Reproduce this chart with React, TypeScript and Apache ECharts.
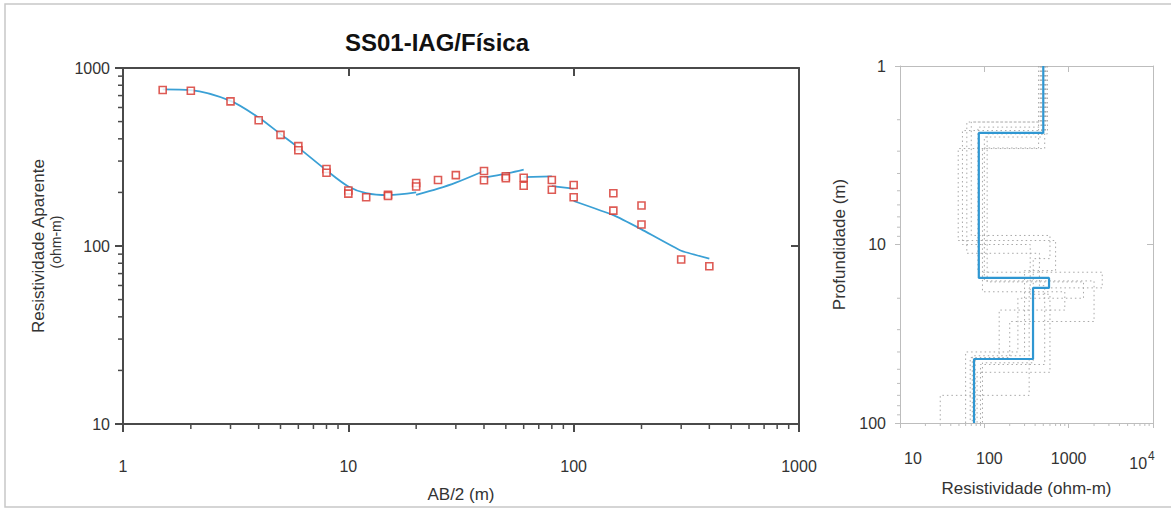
import React, { useEffect, useRef } from 'react';
import * as echarts from 'echarts';

// ---------- Left chart: sounding curve ----------
const obsAB = [1.5, 2, 3, 4, 5, 6, 6, 8, 8, 10, 10, 12, 15, 15, 20, 20, 25, 30, 40, 40, 50, 50, 60, 60, 80, 80, 100, 100, 150, 150, 200, 200, 300, 400];
const obsRho = [752, 745, 649, 509, 421, 364, 345, 271, 258, 205, 197, 188, 194, 191, 226, 216, 235, 250, 264, 234, 246, 240, 242, 218, 235, 207, 220, 188, 198, 158, 169, 132, 84, 77];

const calcSeg1AB = [1.5, 2, 3, 4, 5, 6, 8, 10, 12, 15, 20];
const calcSeg1Rho = [759, 752, 654, 527, 425, 357, 266, 216, 198, 193, 200];
const calcSeg2AB = [20, 25, 30, 40];
const calcSeg2Rho = [194, 210, 227, 264];
const calcSeg3AB = [40, 50, 60];
const calcSeg3Rho = [242, 255, 269];
const calcSeg4AB = [60, 80];
const calcSeg4Rho = [244, 246];
const calcSeg5AB = [80, 100];
const calcSeg5Rho = [217, 210];
const calcSeg6AB = [100, 150, 200, 300, 400];
const calcSeg6Rho = [179, 149, 124, 94, 85];

const leftXTicks = [1, 10, 100, 1000];
const leftYTicks = [10, 100, 1000];
const minorMultipliers = [2, 3, 4, 5, 6, 7, 8, 9];

// ---------- Right chart: layered model ----------
const bestRho = [500, 86, 585, 378, 75.5];
const bestDepth = [2.37, 15.4, 17.5, 43.8];

const altRho1 = [520, 49, 700, 300, 72];
const altDepth1 = [2.9, 9.5, 14, 42];
const altRho2 = [460, 62, 450, 520, 90];
const altDepth2 = [2.06, 11.2, 17, 47];
const altRho3 = [560, 108, 1500, 250, 60];
const altDepth3 = [2.4, 16.2, 20, 40];
const altRho4 = [470, 84, 2500, 340, 30];
const altDepth4 = [2.2, 14.3, 17.5, 70];
const altRho5 = [440, 95, 900, 150, 78];
const altDepth5 = [2.88, 18.4, 23.3, 44];
const altRho6 = [540, 70, 600, 380, 95];
const altDepth6 = [2.06, 8.9, 12, 46];
const altRho7 = [480, 100, 2000, 200, 68];
const altDepth7 = [2.5, 16, 27, 43];
const altRho8 = [530, 55, 350, 600, 82];
const altDepth8 = [2.3, 10, 19, 52];

const altModels = [
  [altRho1, altDepth1], [altRho2, altDepth2], [altRho3, altDepth3], [altRho4, altDepth4],
  [altRho5, altDepth5], [altRho6, altDepth6], [altRho7, altDepth7], [altRho8, altDepth8],
];

const DEPTH_TOP = 1;
const DEPTH_BOTTOM = 100;

function stepLine(rho: number[], depth: number[]) {
  const pts: number[][] = [];
  let top = DEPTH_TOP;
  for (let i = 0; i < rho.length; i++) {
    const bottom = i < depth.length ? depth[i] : DEPTH_BOTTOM;
    pts.push([rho[i], top]);
    pts.push([rho[i], bottom]);
    top = bottom;
  }
  return pts;
}

function minorValues(from: number, to: number) {
  const out: number[] = [];
  for (let d = from; d < to; d *= 10) for (const k of minorMultipliers) out.push(k * d);
  return out;
}

const FONT = '"Liberation Sans", Arial, sans-serif';
const DARK = '#4a4a4a';
const LIGHT = '#bdbdbd';
const BLUE = '#3aa0d5';
const RED = '#d6322b';

// minor log ticks drawn as thin rect symbols placed by the axes' own scales
function minorTickSeries(grid: number, horizontal: boolean, values: number[], anchor: number, len: number, color: string, width: number) {
  return {
    type: 'scatter', xAxisIndex: grid, yAxisIndex: grid, clip: false, silent: true, z: 6,
    data: values.map((v) => (horizontal ? [v, anchor] : [anchor, v])),
    symbol: 'rect',
    symbolSize: horizontal ? [width, len] : [len, width],
    symbolOffset: horizontal ? [0, len / 2] : [-len / 2, 0],
    itemStyle: { color, opacity: 1 },
    emphasis: { disabled: true },
  };
}

export default function App() {
  const ref = useRef<HTMLDivElement>(null);
  useEffect(() => {
    if (!ref.current) return;
    const chart = echarts.init(ref.current, undefined, { renderer: 'svg' });

    const zip = (a: number[], b: number[]) => a.map((v, i) => [v, b[i]]);
    const calcSegs = [
      [calcSeg1AB, calcSeg1Rho, 0.3], [calcSeg2AB, calcSeg2Rho, 0.3], [calcSeg3AB, calcSeg3Rho, 0.3],
      [calcSeg4AB, calcSeg4Rho, 0], [calcSeg5AB, calcSeg5Rho, 0], [calcSeg6AB, calcSeg6Rho, 0.12],
    ] as any[];

    const labelStyle = { fontSize: 16, color: '#333', fontFamily: FONT };

    const option: any = {
      animation: false,
      backgroundColor: '#fff',
      textStyle: { fontFamily: FONT },
      grid: [
        { left: 123, top: 68, width: 676, height: 356, outerBoundsMode: 'none', containLabel: false },
        { left: 900, top: 66, width: 253, height: 357, outerBoundsMode: 'none', containLabel: false },
      ],
      graphic: [
        { type: 'rect', silent: true, shape: { x: 5, y: 4, width: 1200, height: 503 }, style: { fill: 'none', stroke: '#c8c8c8', lineWidth: 1.5 } },
        { type: 'text', x: 437, y: 42, style: { text: 'SS01-IAG/Física', font: `bold 24px ${FONT}`, fill: '#111', align: 'center', verticalAlign: 'middle' } },
        { type: 'text', x: 38, y: 246, rotation: Math.PI / 2, style: { text: 'Resistividade Aparente', font: `17px ${FONT}`, fill: '#333', align: 'center', verticalAlign: 'middle' } },
        { type: 'text', x: 56, y: 242, rotation: Math.PI / 2, style: { text: '(ohm-m)', font: `14px ${FONT}`, fill: '#333', align: 'center', verticalAlign: 'middle' } },
      ],
      xAxis: [
        {
          type: 'log', logBase: 10, min: 1, max: 1000, gridIndex: 0, position: 'bottom',
          name: 'AB/2 (m)', nameLocation: 'middle', nameGap: 62,
          nameTextStyle: { fontSize: 17, color: '#333', fontFamily: FONT },
          axisLine: { onZero: false, lineStyle: { color: DARK, width: 2 } },
          axisTick: { inside: false, length: 8, lineStyle: { color: DARK, width: 2 } },
          axisLabel: { ...labelStyle, margin: 34, formatter: (v: number) => (leftXTicks.includes(v) ? String(v) : '') },
          splitLine: { show: false },
        },
        {
          type: 'log', logBase: 10, min: 10, max: 10000, gridIndex: 1, position: 'bottom',
          name: 'Resistividade (ohm-m)', nameLocation: 'middle', nameGap: 57,
          nameTextStyle: { fontSize: 17, color: '#333', fontFamily: FONT },
          axisLine: { onZero: false, lineStyle: { color: LIGHT, width: 1 } },
          axisTick: { inside: false, length: 5, lineStyle: { color: LIGHT } },
          axisLabel: {
            ...labelStyle, margin: 27, showMinLabel: true, showMaxLabel: true,
            formatter: (v: number) => {
              if (v === 10) return '{l|10}';
              if (v === 100) return '{m|100}';
              if (v === 1000) return '1000';
              if (v === 10000) return '{n|10}{sup|4}';
              return '';
            },
            rich: {
              l: { fontSize: 16, color: '#333', padding: [0, 0, 0, 26] },
              m: { fontSize: 16, color: '#333', padding: [0, 0, 0, 10] },
              n: { fontSize: 16, color: '#333' },
              sup: { fontSize: 12, color: '#333', verticalAlign: 'top', padding: [0, 22, 14, 1] },
            },
          },
          splitLine: { show: false },
        },
        {
          type: 'log', logBase: 10, min: 1, max: 1000, gridIndex: 0, position: 'top',
          axisLine: { onZero: false, lineStyle: { color: DARK, width: 2 } },
          axisTick: { inside: true, length: 8, lineStyle: { color: DARK, width: 2 } },
          axisLabel: { show: false }, splitLine: { show: false },
        },
        {
          type: 'log', logBase: 10, min: 10, max: 10000, gridIndex: 1, position: 'top',
          axisLine: { onZero: false, lineStyle: { color: LIGHT, width: 1 } },
          axisTick: { inside: true, length: 6, lineStyle: { color: LIGHT } },
          axisLabel: { show: false }, splitLine: { show: false },
        },
      ],
      yAxis: [
        {
          type: 'log', logBase: 10, min: 10, max: 1000, gridIndex: 0, position: 'left',
          axisLine: { onZero: false, lineStyle: { color: DARK, width: 2 } },
          axisTick: { inside: false, length: 8, lineStyle: { color: DARK, width: 2 } },
          axisLabel: { ...labelStyle, margin: 13, formatter: (v: number) => (leftYTicks.includes(v) ? String(v) : '') },
          splitLine: { show: false },
        },
        {
          type: 'log', logBase: 10, min: DEPTH_TOP, max: DEPTH_BOTTOM, inverse: true, gridIndex: 1, position: 'left',
          name: 'Profundidade (m)', nameLocation: 'middle', nameGap: 52,
          nameTextStyle: { fontSize: 17, color: '#333', fontFamily: FONT },
          axisLine: { onZero: false, lineStyle: { color: LIGHT, width: 1 } },
          axisTick: { inside: false, length: 5, lineStyle: { color: LIGHT } },
          axisLabel: { ...labelStyle, margin: 14 },
          splitLine: { show: false },
        },
        {
          type: 'log', logBase: 10, min: 10, max: 1000, gridIndex: 0, position: 'right',
          axisLine: { onZero: false, lineStyle: { color: DARK, width: 2 } },
          axisTick: { inside: true, length: 8, lineStyle: { color: DARK, width: 2 } },
          axisLabel: { show: false }, splitLine: { show: false },
        },
        {
          type: 'log', logBase: 10, min: DEPTH_TOP, max: DEPTH_BOTTOM, inverse: true, gridIndex: 1, position: 'right',
          axisLine: { onZero: false, lineStyle: { color: LIGHT, width: 1 } },
          axisTick: { inside: true, length: 6, lineStyle: { color: LIGHT } },
          axisLabel: { show: false }, splitLine: { show: false },
        },
      ],
      series: [
        ...calcSegs.map(([ab, rho, sm]) => ({
          type: 'line', xAxisIndex: 0, yAxisIndex: 0, data: zip(ab, rho), smooth: sm,
          showSymbol: false, lineStyle: { color: BLUE, width: 1.8 }, z: 2,
        })),
        {
          type: 'scatter', xAxisIndex: 0, yAxisIndex: 0, data: zip(obsAB, obsRho), symbol: 'rect', symbolSize: 7,
          itemStyle: { color: '#fff', borderColor: RED, borderWidth: 1.6 }, z: 5,
        },
        ...altModels.map(([rho, depth]) => ({
          type: 'line', xAxisIndex: 1, yAxisIndex: 1, data: stepLine(rho, depth),
          showSymbol: false, lineStyle: { color: '#a8a8a8', width: 1, type: [1.5, 3] }, z: 2,
        })),
        {
          type: 'line', xAxisIndex: 1, yAxisIndex: 1, data: stepLine(bestRho, bestDepth),
          showSymbol: false, lineStyle: { color: '#2f97d2', width: 2.2 }, z: 4,
        },
        minorTickSeries(0, true, minorValues(1, 1000), 10, 5, DARK, 1.5),
        minorTickSeries(0, false, minorValues(10, 1000), 1, 5, DARK, 1.5),
        minorTickSeries(1, true, minorValues(10, 10000), DEPTH_BOTTOM, 3, LIGHT, 1),
        minorTickSeries(1, false, minorValues(1, 100), 10, 3, LIGHT, 1),
      ],
    };
    chart.setOption(option);
    return () => chart.dispose();
  }, []);
  return <div ref={ref} style={{ position: 'fixed', left: 0, top: 0, width: 1171, height: 510 }} />;
}
